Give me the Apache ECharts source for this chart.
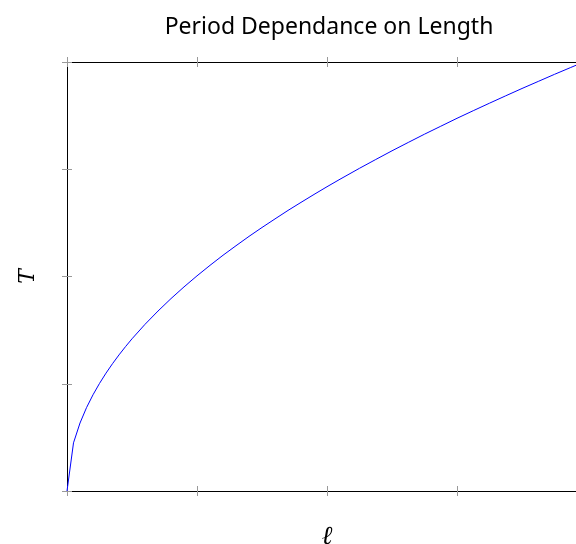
<!DOCTYPE html>
<html>
<head>
<meta charset="utf-8">
<script src="https://cdn.jsdelivr.net/npm/echarts@6/dist/echarts.min.js"></script>
<style>
  html, body { margin: 0; padding: 0; background: #fff; }
  #main { width: 576px; height: 544px; }
</style>
</head>
<body>
<div id="main"></div>
<script>
var myChart = echarts.init(document.getElementById('main'));

// 数据（从图上读出来的点）
var lengthVals = [0, 0.05, 0.1, 0.15, 0.2, 0.25, 0.3, 0.35, 0.4, 0.45, 0.5, 0.6, 0.7, 0.8, 0.9, 1.0,
    1.1, 1.2, 1.3, 1.4, 1.5, 1.6, 1.7, 1.8, 1.9, 2.0, 2.1, 2.25, 2.375, 2.5, 2.625, 2.75, 2.875,
    3.0, 3.125, 3.25, 3.375, 3.5, 3.625, 3.75, 3.875, 4.0];
var periodVals = [0, 0.449, 0.634, 0.777, 0.897, 1.003, 1.099, 1.187, 1.269, 1.346, 1.419, 1.554, 1.678, 1.794, 1.903, 2.006,
    2.104, 2.198, 2.287, 2.374, 2.457, 2.537, 2.616, 2.691, 2.765, 2.837, 2.907, 3.009, 3.091, 3.172, 3.250, 3.327, 3.401,
    3.475, 3.546, 3.616, 3.685, 3.753, 3.819, 3.885, 3.949, 4.012];

var titleText = 'Period Dependance on Length';
var xName = 'ℓ';
var yName = 'T';

var points = [];
for (let i = 0; i < lengthVals.length; i++) {
    points.push([lengthVals[i], periodVals[i]]);
}

var tickStyle = { color: '#999', width: 1 };

// 刻度两边都有，所以每条边画两个轴
function makeAxis(pos, inside, showLine, extra) {
    var ax = {
        type: 'value', position: pos, min: 0, max: 4, interval: 1,
        axisLine: { show: showLine, onZero: false, lineStyle: { color: '#000', width: 1 } },
        axisTick: { show: true, inside: inside, length: 5, lineStyle: tickStyle },
        axisLabel: { show: false },
        splitLine: { show: false }
    };
    return Object.assign(ax, extra || {});
}

var option = {
    animation: false,
    title: {
        text: titleText,
        left: 324,
        top: 11,
        textAlign: 'center',
        textStyle: { fontFamily: 'Noto Sans', fontWeight: 'normal', fontSize: 23, color: '#000' }
    },
    grid: { left: 67, top: 62, right: -11, bottom: 53, outerBoundsMode: 'none', containLabel: false },
    xAxis: [
        makeAxis('bottom', false, true, {
            name: xName, nameLocation: 'middle', nameGap: 33,
            nameTextStyle: { fontFamily: 'DejaVu Serif', fontStyle: 'italic', fontSize: 26, color: '#000' }
        }),
        makeAxis('bottom', true, false),
        makeAxis('top', false, true),
        makeAxis('top', true, false)
    ],
    yAxis: [
        makeAxis('left', false, true, {
            name: yName, nameLocation: 'middle', nameGap: 28,
            nameTextStyle: { fontFamily: 'DejaVu Serif', fontStyle: 'italic', fontSize: 22, color: '#000' }
        }),
        makeAxis('left', true, false),
        makeAxis('right', false, true),
        makeAxis('right', true, false)
    ],
    series: [{
        type: 'line',
        xAxisIndex: 0,
        yAxisIndex: 0,
        data: points,
        showSymbol: false,
        symbol: 'none',
        smooth: false,
        clip: true,
        lineStyle: { color: '#0000ff', width: 1 }
    }]
};

myChart.setOption(option);
</script>
</body>
</html>
